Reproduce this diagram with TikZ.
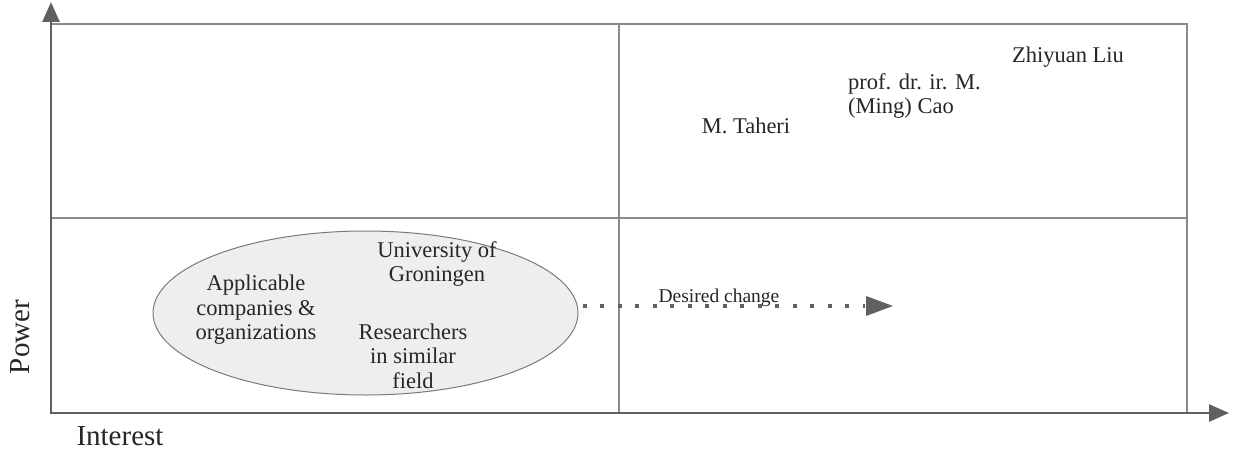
\documentclass[tikz,border=0pt]{standalone}
\usepackage{fontspec}
\setmainfont{Liberation Serif}
\usetikzlibrary{arrows.meta,shapes.geometric}
\definecolor{axisgray}{HTML}{606060}
\definecolor{gridgray}{HTML}{8A8A8A}
\definecolor{ovalfill}{HTML}{EEEEEE}
\definecolor{ovalline}{HTML}{7A7A7A}
\begin{document}
\begin{tikzpicture}[x=1pt,y=-1pt,
  axis/.style={draw=axisgray,line width=2.6pt,-{Triangle[length=20pt,width=17pt]}},
  grid/.style={draw=gridgray,line width=1.4pt},
  lbl/.style={font=\fontsize{22.5}{24.5}\selectfont,align=center,inner sep=0pt,text=black!85},
  axlbl/.style={font=\fontsize{29}{30}\selectfont,inner sep=0pt,text=black!85},
  oval/.style={ellipse,draw=ovalline,fill=ovalfill,line width=1pt,minimum width=425pt,minimum height=164pt,inner sep=0pt}]
\useasboundingbox (0,0) rectangle (1233,452);
% quadrant frame
\coordinate (o) at (51,413);
\coordinate (tl) at (51,24);
\coordinate (tr) at (1187,24);
\coordinate (br) at (1187,413);
\coordinate (ml) at (51,218);
\coordinate (mr) at (1187,218);
\coordinate (mt) at (619,24);
\coordinate (mb) at (619,413);
\draw[grid] (tl) -- (tr) -- (br);
\draw[grid] (ml) -- (mr);
\draw[grid] (mt) -- (mb);
% axes
\coordinate (ytip) at (51,2);
\coordinate (xtip) at (1229,413);
\draw[axis] (51,414.3) -- (ytip);
\draw[axis] (49.7,413) -- (xtip);
\node[axlbl,rotate=90] (power) at (20,337) {Power};
\node[axlbl] (interest) at (120,436) {Interest};
% low-interest group
\node[oval] (grp) at (365.5,313) {};
\node[lbl] (apps) at (256,310) {Applicable\\companies \&\\organizations};
\node[lbl] (rug) at (437,264) {University of\\Groningen};
\node[lbl] (res) at (413,356) {Researchers\\in similar\\field};
% shift towards high interest
\coordinate (goal) at (893,306);
\draw[draw=axisgray,line width=4pt,dash pattern=on 4pt off 13.5pt]
  (grp.east) ++(4,-7) coordinate (dstart) -- (865,306);
\fill[axisgray] (866,296) -- (goal) -- (866,316) -- cycle;
\node[font=\fontsize{19.5}{21}\selectfont,inner sep=0pt,text=black!85] (chg) at (719,298) {Desired change};
% high-interest stakeholders
\node[lbl] (taheri) at (746,126) {M. Taheri};
\node[lbl,align=left,anchor=north west] (cao) at (848,73) {prof. dr. ir. M.\\(Ming) Cao};
\node[lbl] (liu) at (1068,57) {Zhiyuan Liu};
\end{tikzpicture}
\end{document}
